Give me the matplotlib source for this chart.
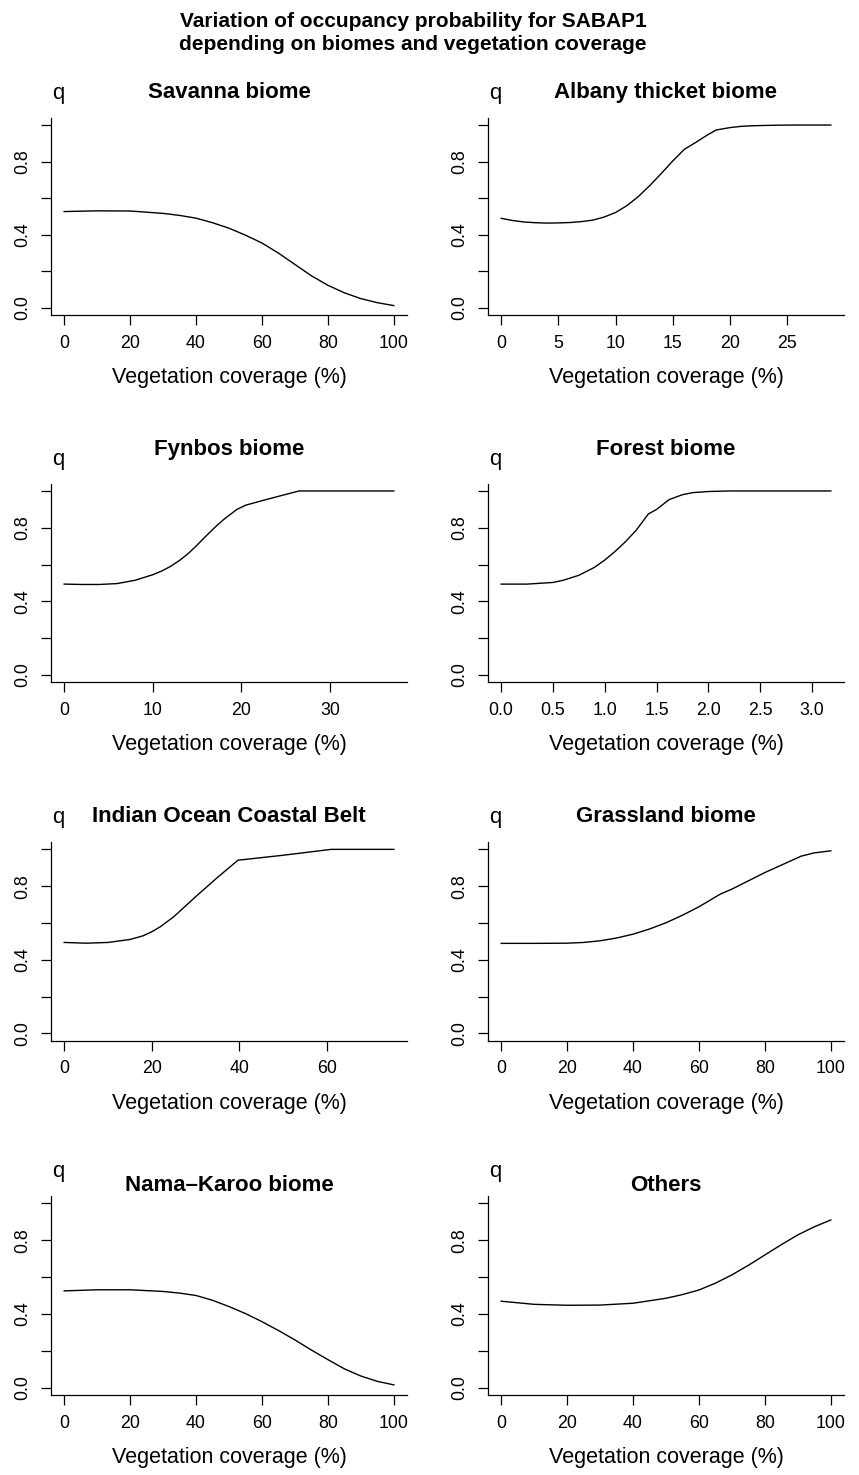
import matplotlib
matplotlib.use("Agg")
import matplotlib.pyplot as plt

plt.rcParams['font.family'] = ['Liberation Sans', 'DejaVu Sans']

# values
savanna_x = [0, 10, 20, 30, 35, 40, 45, 50, 55, 60, 65, 70, 75, 80, 85, 90, 95, 100]
savanna_y = [0.527, 0.531, 0.530, 0.517, 0.506, 0.491, 0.466, 0.436, 0.398, 0.355,
             0.300, 0.238, 0.176, 0.124, 0.083, 0.051, 0.029, 0.013]

albany_x = [0, 1, 2, 3, 4, 5, 6, 7, 8, 9, 10, 11, 12, 13, 14, 15, 16, 17, 18, 18.8,
            20, 21, 22, 24, 26, 28.8]
albany_y = [0.490, 0.478, 0.470, 0.466, 0.464, 0.465, 0.467, 0.472, 0.480, 0.497,
            0.522, 0.560, 0.610, 0.670, 0.736, 0.804, 0.867, 0.905, 0.945, 0.973,
            0.986, 0.993, 0.996, 0.999, 1.0, 1.0]

fynbos_x = [0, 2, 4, 6, 8, 10, 11, 12, 13, 14, 15, 16, 17, 18, 19.5, 20.5, 23, 26.5, 30, 37.2]
fynbos_y = [0.494, 0.492, 0.492, 0.497, 0.515, 0.545, 0.565, 0.590, 0.622, 0.660,
             0.706, 0.755, 0.802, 0.845, 0.900, 0.923, 0.956, 1.0, 1.0, 1.0]

forest_x = [0, 0.25, 0.5, 0.6, 0.75, 0.9, 1.0, 1.1, 1.2, 1.3, 1.42, 1.5, 1.62, 1.75,
            1.85, 2.0, 2.2, 3.18]
forest_y = [0.494, 0.494, 0.503, 0.515, 0.542, 0.585, 0.625, 0.672, 0.725, 0.785,
            0.875, 0.900, 0.953, 0.980, 0.991, 0.997, 1.0, 1.0]

indian_x = [0, 5, 10, 15, 18, 20, 22, 25, 30, 35, 39.7, 50, 61, 75.3]
indian_y = [0.494, 0.490, 0.494, 0.510, 0.530, 0.552, 0.580, 0.633, 0.742, 0.847,
            0.941, 0.968, 1.0, 1.0]

grass_x = [0, 10, 20, 25, 30, 35, 40, 45, 50, 55, 60, 66.5, 70, 80, 91, 95, 100]
grass_y = [0.489, 0.489, 0.490, 0.494, 0.503, 0.518, 0.539, 0.567, 0.601, 0.642,
           0.688, 0.757, 0.784, 0.874, 0.963, 0.981, 0.992]

nama_x = [0, 10, 20, 30, 35, 40, 45, 50, 55, 60, 65, 70, 75, 80, 85, 90, 95, 100]
nama_y = [0.525, 0.531, 0.531, 0.522, 0.513, 0.500, 0.474, 0.440, 0.402, 0.358,
          0.310, 0.259, 0.204, 0.152, 0.102, 0.063, 0.034, 0.015]

others_x = [0, 10, 20, 30, 40, 50, 55, 60, 65, 70, 75, 80, 85, 90, 95, 100]
others_y = [0.469, 0.452, 0.447, 0.448, 0.458, 0.485, 0.505, 0.530, 0.567, 0.612,
            0.664, 0.720, 0.776, 0.829, 0.873, 0.910]

titles = ["Savanna biome", "Albany thicket biome", "Fynbos biome", "Forest biome",
          "Indian Ocean Coastal Belt", "Grassland biome", "Nama\u2013Karoo biome", "Others"]
xs = [savanna_x, albany_x, fynbos_x, forest_x, indian_x, grass_x, nama_x, others_x]
ys = [savanna_y, albany_y, fynbos_y, forest_y, indian_y, grass_y, nama_y, others_y]
xticks = [[0, 20, 40, 60, 80, 100], [0, 5, 10, 15, 20, 25], [0, 10, 20, 30],
          [0.0, 0.5, 1.0, 1.5, 2.0, 2.5, 3.0], [0, 20, 40, 60],
          [0, 20, 40, 60, 80, 100], [0, 20, 40, 60, 80, 100], [0, 20, 40, 60, 80, 100]]
yticks = [0, 0.2, 0.4, 0.6, 0.8, 1.0]
yticklabels = ["0.0", "", "0.4", "", "0.8", ""]

W, H = 859, 1475
fig = plt.figure(figsize=(W / 100, H / 100), dpi=100)

# layout in pixels
col_left = [51, 488]
ax_w = 356
row_top = [117.7, 483.6, 842.0, 1196.0]
row_bot = [315.3, 682.4, 1040.7, 1395.0]
title_pad = [14.4, 20.6, 14.4, 3.6]

for i in range(8):
    r, c = divmod(i, 2)
    ax = fig.add_axes([col_left[c] / W, 1 - row_bot[r] / H, ax_w / W,
                       (row_bot[r] - row_top[r]) / H])
    ax.plot(xs[i], ys[i], color='black', lw=1.0)
    xmax = max(xs[i])
    ax.set_xlim(-0.04 * xmax, 1.04 * xmax)
    ax.set_ylim(-0.04, 1.04)
    for s in ['top', 'right']:
        ax.spines[s].set_visible(False)
    for s in ['left', 'bottom']:
        ax.spines[s].set_linewidth(0.9)
    ax.set_yticks(yticks)
    ax.set_yticklabels(yticklabels)
    ax.set_xticks(xticks[i])
    if i == 3:
        ax.set_xticklabels(["%.1f" % v for v in xticks[i]])
    else:
        ax.set_xticklabels([str(v) for v in xticks[i]])
    ax.tick_params(direction='out', length=7.2, width=0.9, labelsize=12.8, pad=7)
    plt.setp(ax.get_yticklabels(), rotation=90, va='center')
    ax.set_xlabel("Vegetation coverage (%)", fontsize=15.5, labelpad=11)
    ax.set_title(titles[i], fontsize=16, fontweight='bold', pad=title_pad[r])
    ax.annotate('q', xy=(0, 1), xycoords='axes fraction', xytext=(7, 19),
                textcoords='offset pixels', ha='center', va='baseline', fontsize=16)

fig.text(413 / W, 1 - 26.7 / H, "Variation of occupancy probability for SABAP1",
         ha='center', va='baseline', fontsize=15, fontweight='bold')
fig.text(413 / W, 1 - 50 / H, "depending on biomes and vegetation coverage",
         ha='center', va='baseline', fontsize=15, fontweight='bold')

fig.savefig("out.png", dpi=100)
